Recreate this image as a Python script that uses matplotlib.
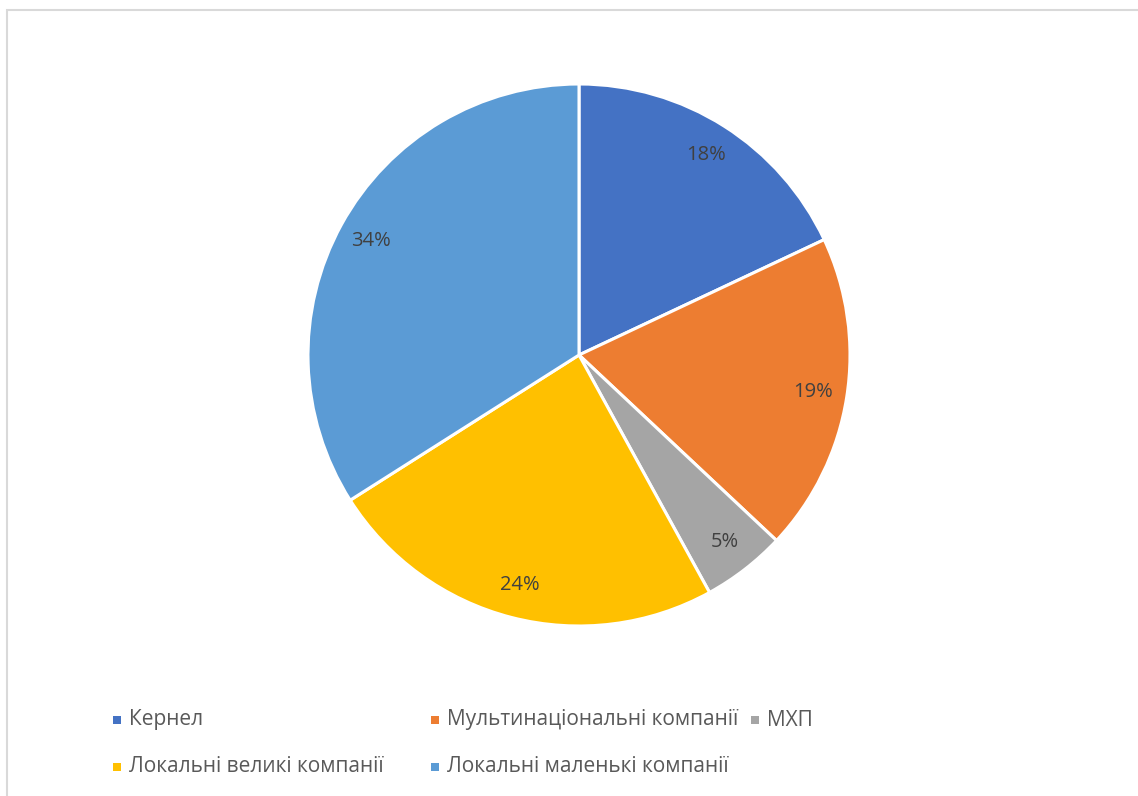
import matplotlib
matplotlib.use("Agg")
import matplotlib.pyplot as plt
from matplotlib.patches import Rectangle

labels = ["Кернел", "Мультинаціональні компанії", "МХП",
          "Локальні великі компанії", "Локальні маленькі компанії"]
values = [18, 19, 5, 24, 34]
colors = ["#4472C4", "#ED7D31", "#A5A5A5", "#FFC000", "#5B9BD5"]

W, H = 1138, 796
plt.rcParams['font.family'] = ['Open Sans', 'DejaVu Sans']
fig = plt.figure(figsize=(W / 100, H / 100), dpi=100)
fig.patch.set_facecolor("white")

# chart border
fig.patches.append(Rectangle((7 / W, -0.05), 1.2, (H - 10) / H + 0.05,
                             transform=fig.transFigure, fill=False,
                             edgecolor="#D9D9D9", linewidth=1.5))

cx, cy, r = 579, 355, 271
pad = 1.02
ax = fig.add_axes([(cx - r * pad) / W, (H - cy - r * pad) / H,
                   2 * r * pad / W, 2 * r * pad / H])
wedges, texts, autotexts = ax.pie(
    values, colors=colors, startangle=90, counterclock=False, radius=1,
    autopct=lambda p: f"{p:.0f}%", pctdistance=0.875,
    wedgeprops=dict(edgecolor="white", linewidth=2.2),
    textprops=dict(color="#404040", fontsize=14.5))
ax.set_xlim(-pad, pad)
ax.set_ylim(-pad, pad)
ax.set_aspect("auto")
ax.axis("off")

# legend laid out row-wise like the original
positions = [(117, 720), (435, 720), (755, 720), (117, 767), (435, 767)]
for (px, py), lab, col in zip(positions, labels, colors):
    s = 8
    fig.patches.append(Rectangle(((px - s / 2) / W, (H - py - s / 2) / H), s / W, s / H,
                                 transform=fig.transFigure, facecolor=col,
                                 edgecolor="none"))
    fig.text((px + 12) / W, (H - py) / H, lab, fontsize=15, color="#595959",
             va="center", ha="left")

fig.savefig("out.png", dpi=100)
